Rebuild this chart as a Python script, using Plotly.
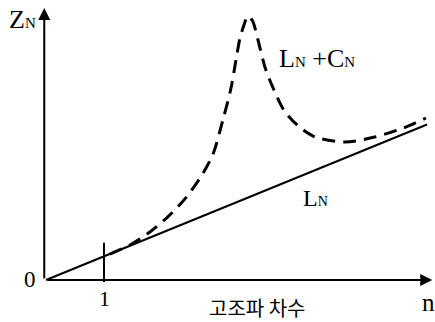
import plotly.graph_objects as go

# Harmonic order n and impedance values (arbitrary units, L_N = 1 at n = 1)
ln_n = [0.0, 6.57]
ln_z = [0.0, 6.48]

lc_n = [1.10, 1.45, 1.79, 2.10, 2.41, 2.69, 2.88, 3.05, 3.19, 3.29, 3.345, 3.41,
        3.48, 3.56, 3.655, 3.78, 3.93, 4.10, 4.33, 4.64, 5.16, 5.67, 6.16, 6.55]
lc_z = [1.08, 1.46, 2.00, 2.63, 3.42, 4.38, 5.25, 6.67, 8.00, 9.38, 10.08, 10.60,
        11.00, 10.80, 10.00, 8.83, 7.92, 7.08, 6.46, 5.96, 5.75, 5.96, 6.33, 6.75]

tick_n = [1]
tick_labels = ["1"]

serif = "Liberation Serif, Times New Roman, serif"
sub = "<span style='font-size:15px'>N</span>"

fig = go.Figure()

fig.add_trace(go.Scatter(
    x=ln_n, y=ln_z, mode="lines",
    line=dict(color="black", width=2), hoverinfo="skip"))

fig.add_trace(go.Scatter(
    x=lc_n, y=lc_z, mode="lines",
    line=dict(color="black", width=3, dash="13px,8px", shape="spline", smoothing=0.8),
    hoverinfo="skip"))

# Axes drawn as arrows from the origin
fig.add_annotation(x=6.66, y=0, ax=0, ay=0, xref="x", yref="y", axref="x", ayref="y",
                   text="", showarrow=True, arrowhead=2, arrowsize=1.2, arrowwidth=2,
                   arrowcolor="black")
fig.add_annotation(x=-0.03, y=11.33, ax=-0.03, ay=0, xref="x", yref="y", axref="x", ayref="y",
                   text="", showarrow=True, arrowhead=2, arrowsize=1.2, arrowwidth=2,
                   arrowcolor="black")

# Tick mark at n = 1
for t, lab in zip(tick_n, tick_labels):
    fig.add_shape(type="line", x0=t, x1=t, y0=-0.08, y1=1.55, xref="x", yref="y",
                  line=dict(color="black", width=2))
    fig.add_annotation(x=t, y=-0.75, xref="x", yref="y", text=lab, showarrow=False,
                       font=dict(family=serif, size=22, color="black"))

texts = [
    dict(x=-0.276, y=0.04, text="0", size=23, xanchor="center"),
    dict(x=-0.68, y=10.875, text="Z" + sub, size=26, xanchor="left"),
    dict(x=3.98, y=9.25, text="L" + sub + " +C" + sub, size=26, xanchor="left"),
    dict(x=4.40, y=3.42, text="L" + "<span style='font-size:14px'>N</span>", size=24, xanchor="left"),
    dict(x=6.60, y=-0.92, text="n", size=25, xanchor="center"),
]
for t in texts:
    fig.add_annotation(x=t["x"], y=t["y"], xref="x", yref="y", text=t["text"],
                       showarrow=False, xanchor=t["xanchor"], yanchor="middle",
                       font=dict(family=serif, size=t["size"], color="black"))

fig.add_annotation(x=3.64, y=-1.14, xref="x", yref="y", text="고조파 차수", showarrow=False,
                   font=dict(family="Noto Sans CJK KR", size=20, color="black"))

fig.update_layout(
    width=435, height=322,
    margin=dict(l=0, r=0, t=0, b=0),
    paper_bgcolor="white", plot_bgcolor="white",
    showlegend=False,
    xaxis=dict(range=[-46 / 58, 389 / 58], visible=False, fixedrange=True),
    yaxis=dict(range=[-42 / 24, 280 / 24], visible=False, fixedrange=True),
)

fig.write_html("out.html")
